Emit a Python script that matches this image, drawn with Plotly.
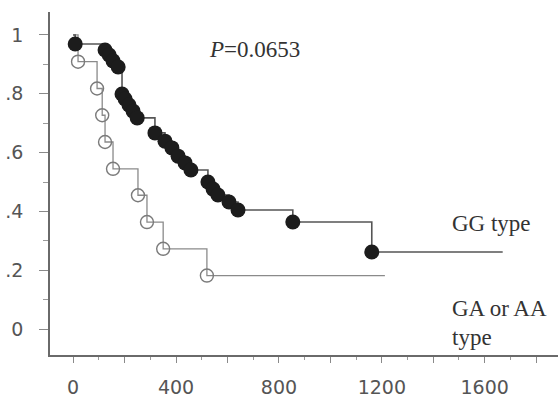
import plotly.graph_objects as go

# GG type (filled circles): event times and survival after each step
gg_times = [8, 124, 140, 155, 175, 190, 202, 217, 233, 249, 318, 357, 384, 408, 435, 458,
            524, 544, 563, 606, 641, 854, 1161]
gg_surv = [0.969, 0.949, 0.932, 0.912, 0.891, 0.799, 0.782, 0.762, 0.741, 0.718, 0.667, 0.639,
           0.616, 0.588, 0.565, 0.541, 0.500, 0.476, 0.456, 0.432, 0.405, 0.364, 0.262]
gg_end = 1670

# GA or AA type (open circles)
ga_times = [19, 93, 113, 124, 155, 252, 287, 350, 520]
ga_surv = [0.909, 0.818, 0.727, 0.636, 0.545, 0.455, 0.364, 0.273, 0.182]
ga_end = 1212

x_ticks = [0, 200, 400, 600, 800, 1000, 1200, 1400, 1600, 1800]
x_labels = ["0", "", "400", "", "800", "", "1200", "", "1600", ""]
y_ticks = [0, 0.2, 0.4, 0.6, 0.8, 1.0]
y_labels = ["0", ".2", ".4", ".6", ".8", "1"]

W, H = 558, 402
L, R, T, B = 50, 0, 12, 47
pw, ph = W - L - R, H - T - B

fig = go.Figure()

fig.add_trace(go.Scatter(
    x=[0] + ga_times + [ga_end], y=[1.0] + ga_surv + [ga_surv[-1]],
    mode="lines", line=dict(shape="hv", color="#8a8a8a", width=1.3),
    hoverinfo="skip", showlegend=False))
fig.add_trace(go.Scatter(
    x=ga_times, y=ga_surv, mode="markers",
    marker=dict(symbol="circle-open", size=13, color="#7a7a7a", line=dict(width=1.4)),
    showlegend=False))

fig.add_trace(go.Scatter(
    x=[0] + gg_times + [gg_end], y=[1.0] + gg_surv + [gg_surv[-1]],
    mode="lines", line=dict(shape="hv", color="#555555", width=1.6),
    hoverinfo="skip", showlegend=False))
fig.add_trace(go.Scatter(
    x=gg_times, y=gg_surv, mode="markers",
    marker=dict(symbol="circle", size=15, color="#1c1c1c"),
    showlegend=False))

tickfont = dict(family="DejaVu Sans", size=19, color="#555555")
textfont = dict(family="Liberation Serif", size=23, color="#333333")


def ann(px, py, text):
    return dict(xref="paper", yref="paper", x=(px - L) / pw, y=1 - (py - T) / ph,
                text=text, showarrow=False, xanchor="left", yanchor="middle",
                font=textfont)


fig.update_layout(
    width=W, height=H,
    margin=dict(l=L, r=R, t=T, b=B),
    paper_bgcolor="white", plot_bgcolor="white",
    xaxis=dict(range=[-90, 1885], showgrid=False, zeroline=False, automargin=False,
               showline=True, linecolor="#6a6a6a", linewidth=1.5,
               tickmode="array", tickvals=x_ticks, ticktext=x_labels,
               ticks="outside", ticklen=6, tickwidth=1.2, tickcolor="#8a8a8a",
               ticklabelstandoff=8, tickfont=tickfont,
               minor=dict(dtick=100, tick0=0, ticks="outside", ticklen=3,
                          tickwidth=1, tickcolor="#9a9a9a")),
    yaxis=dict(range=[-0.088, 1.078], showgrid=False, zeroline=False, automargin=False,
               showline=True, linecolor="#6a6a6a", linewidth=1.5,
               tickmode="array", tickvals=y_ticks, ticktext=y_labels,
               ticks="outside", ticklen=9, tickwidth=1.2, tickcolor="#8a8a8a",
               ticklabelstandoff=12, tickfont=tickfont,
               minor=dict(dtick=0.1, tick0=0, ticks="outside", ticklen=5,
                          tickwidth=1, tickcolor="#9a9a9a")),
    annotations=[
        ann(207, 50, "<i>P</i>=0.0653"),
        ann(450, 223, "GG type"),
        ann(450, 308, "GA or AA"),
        ann(450, 337, "type"),
    ],
)

fig.write_html(
    "out.html",
    config={"displayModeBar": False},
    post_script="document.body.style.margin='0';document.body.style.overflow='hidden';",
)
